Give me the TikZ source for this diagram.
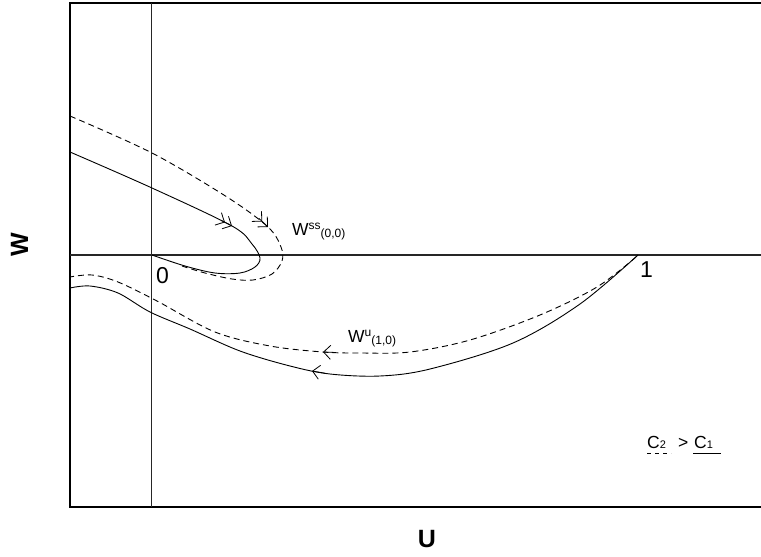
\documentclass[tikz,border=0pt]{standalone}
\usepackage{fontspec}
\setmainfont{Liberation Sans}
\usetikzlibrary{arrows.meta}
\begin{document}
\begin{tikzpicture}[x=1pt,y=-1pt,
  frameline/.style={line width=2.3pt,line cap=rect},
  axisline/.style={line width=1.6pt,black!85},
  curve/.style={line width=0.9pt},
  dcurve/.style={curve,dash pattern=on 6pt off 4pt},
  chev/.style={line width=0.8pt,-{Straight Barb[length=7pt,width=14pt]}},
  dchev/.style={line width=0.8pt,-{Straight Barb[length=7pt,width=14pt] Straight Barb[length=7pt,width=14pt]}},
  lbl/.style={inner sep=0pt,anchor=base west,font=\fontsize{17.5}{20}\selectfont},
  num/.style={inner sep=0pt,anchor=base west,font=\fontsize{23}{26}\selectfont},
  axlbl/.style={inner sep=0pt,anchor=base,font=\fontsize{25}{28}\selectfont\bfseries}
]
\useasboundingbox (0,0) rectangle (761,557);
% frame and axes
\draw[frameline] (762,3) -- (70,3) -- (70,507) -- (762,507);
\draw[axisline] (151.5,3) -- (151.5,507);
\draw[axisline] (70,255) -- (762,255);

% W^ss solid
\draw[curve] plot[smooth,tension=0.55] coordinates {(70,152) (152,188) (232,226) (252,244) (260,258) (255,267) (240,273) (215,273) (185,266) (152,255)};
\draw[dchev] (221,220.3) -- (232,226);
% W^ss dashed
\draw[dcurve] plot[smooth,tension=0.55] coordinates {(70,116) (152,153) (227,197) (268,227) (281,247) (282,261) (272,274) (253,280) (232,279) (205,273) (182,266)};
\draw[dchev] (259,218.5) -- (268,227);

% W^u solid
\draw[curve] plot[smooth,tension=0.55] coordinates {(638,255) (580,304) (513,343) (430,369) (380,376) (330,374) (290,366) (240,351) (190,329) (150,312) (118,293) (90,286) (70,288)};
\draw[chev] (325,373.2) -- (312,371);
% W^u dashed
\draw[dcurve] plot[smooth,tension=0.55] coordinates {(636,257) (597,287) (540,315) (470,340) (410,352) (360,353) (323,352) (270,346) (215,332) (157,301) (118,282) (92,275) (70,277)};
\draw[chev] (336,352.5) -- (323,352);

% labels
\node[lbl] (wss) at (292,235) {W\raisebox{6pt}{\fontsize{12}{14}\selectfont ss}\raisebox{-2pt}{\fontsize{12}{14}\selectfont (0,0)}};
\node[lbl] (wu) at (348,342.5) {W\raisebox{6pt}{\fontsize{12}{14}\selectfont u}\raisebox{-2pt}{\fontsize{12}{14}\selectfont (1,0)}};
\node[num] (zero) at (156,283) {0};
\node[num] (one) at (640,277) {1};
\node[axlbl] (ulbl) at (427,547) {U};
\node[axlbl,rotate=90] (wlbl) at (28,245) {W};

% legend
\node[lbl] (c2) at (647,448) {C{\fontsize{11}{12}\selectfont 2}};
\node[lbl] (gt) at (678,448) {>};
\node[lbl] (c1) at (694,448) {C{\fontsize{11}{12}\selectfont 1}};
\draw[line width=0.8pt,dash pattern=on 4pt off 4pt] (647,453) -- (671,453);
\draw[line width=0.9pt] (693,453) -- (721,453);
\end{tikzpicture}
\end{document}
